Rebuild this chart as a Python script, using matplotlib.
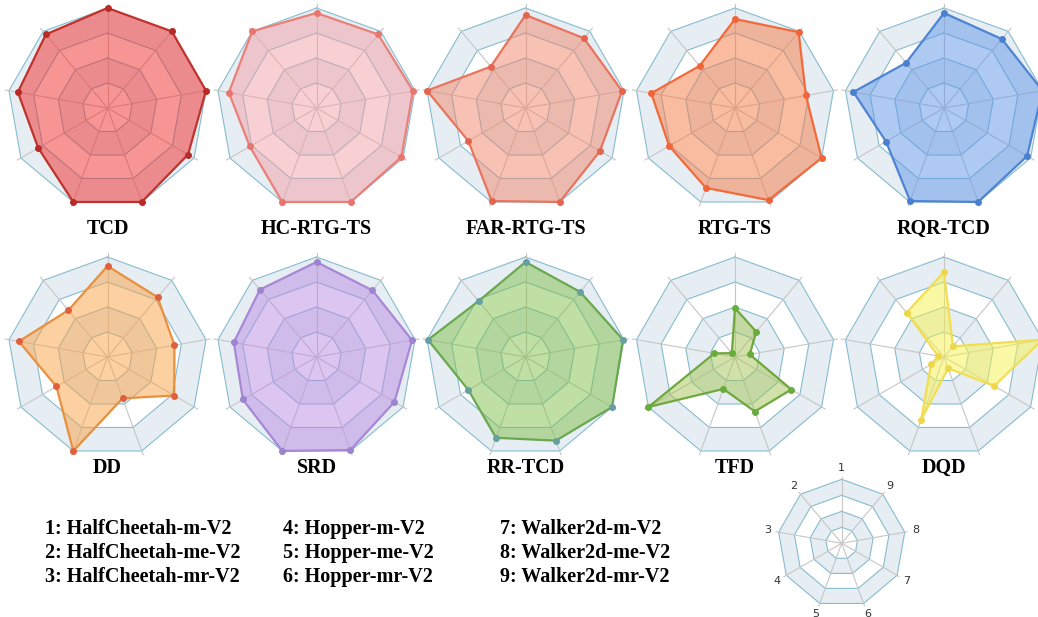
import numpy as np
import matplotlib
matplotlib.use('Agg')
import matplotlib.pyplot as plt

W, H = 1038, 617

# dataset order on the spokes (1 at the top, counter-clockwise)
dataset_names = ['HalfCheetah-m-V2', 'HalfCheetah-me-V2', 'HalfCheetah-mr-V2',
                 'Hopper-m-V2', 'Hopper-me-V2', 'Hopper-mr-V2',
                 'Walker2d-m-V2', 'Walker2d-me-V2', 'Walker2d-mr-V2']

# normalised scores per method, one value per dataset
tcd = [1.00, 0.96, 0.91, 0.80, 1.00, 1.00, 0.93, 1.00, 1.00]
hc_rtg_ts = [0.95, 1.00, 0.89, 0.77, 1.00, 1.00, 0.98, 0.98, 0.96]
far_rtg_ts = [0.93, 0.54, 1.00, 0.66, 0.99, 1.00, 0.86, 0.98, 0.91]
rtg_ts = [0.89, 0.55, 0.85, 0.76, 0.85, 0.98, 1.00, 0.72, 0.99]
rqr_tcd = [0.95, 0.59, 0.92, 0.67, 0.99, 1.00, 0.96, 1.00, 0.90]
dd = [0.91, 0.61, 0.90, 0.59, 1.00, 0.44, 0.77, 0.68, 0.78]
srd = [0.95, 0.88, 0.84, 0.85, 1.00, 0.99, 0.90, 0.97, 0.87]
rr_tcd = [0.95, 0.73, 0.99, 0.66, 0.86, 0.89, 1.00, 0.99, 0.85]
tfd = [0.49, 0.05, 0.21, 1.00, 0.34, 0.58, 0.65, 0.15, 0.33]
dqd = [0.85, 0.58, 0.06, 0.15, 0.67, 0.12, 0.58, 1.00, 0.14]

titles = ['TCD', 'HC-RTG-TS', 'FAR-RTG-TS', 'RTG-TS', 'RQR-TCD',
          'DD', 'SRD', 'RR-TCD', 'TFD', 'DQD']
series = [tcd, hc_rtg_ts, far_rtg_ts, rtg_ts, rqr_tcd,
          dd, srd, rr_tcd, tfd, dqd]
# (line, fill, marker) colours per method
styles = [
    ('#c0322b', '#f02a2a', '#b82a25'),
    ('#ea8078', '#f2a0a6', '#e8756e'),
    ('#e8745e', '#f0866a', '#e2664f'),
    ('#f26a3a', '#f47a45', '#f0643a'),
    ('#4f84d2', '#5f96e8', '#4a80d0'),
    ('#e8903e', '#fba244', '#e0603e'),
    ('#a888d6', '#bb8ce2', '#9c84d0'),
    ('#6aa850', '#80c04a', '#66a0a0'),
    ('#6fa83e', '#a4c454', '#68ac3c'),
    ('#f2de52', '#f6f24c', '#eed84a'),
]

levels = [0.25, 0.5, 0.75, 1.0]
shade = '#e6eef3'
split_col = '#86bccf'
spoke_col = '#c6c6c6'

n = len(dataset_names)
theta = np.pi / 2 + np.arange(n) * 2 * np.pi / n
theta_c = np.append(theta, theta[0])


def radar_axes(fig, cx, cy, R):
    ax = fig.add_axes([(cx - R) / W, 1 - (cy + R) / H, 2 * R / W, 2 * R / H],
                      projection='polar')
    ax.set_theta_offset(0)
    ax.set_ylim(0, 1)
    ax.set_xticks([])
    ax.set_yticks([])
    ax.grid(False)
    ax.spines['polar'].set_visible(False)
    ax.patch.set_visible(False)
    # alternating bands between the nonagon rings
    for lev in levels[::-1]:
        col = shade if levels.index(lev) % 2 == 1 else 'white'
        ax.fill(theta_c, [lev] * (n + 1), color=col, lw=0, zorder=1, clip_on=False)
    for lev in levels:
        ax.plot(theta_c, [lev] * (n + 1), color=split_col, lw=0.8, zorder=2,
                clip_on=False)
    for t in theta:
        ax.plot([t, t], [0, 1.04], color=spoke_col, lw=0.8, zorder=2, clip_on=False)
    return ax


fig = plt.figure(figsize=(W / 100, H / 100), dpi=100)

col_x = [107.5, 316.5, 525.5, 735, 944]
row_y = [108, 357]
title_y = [229, 468]
R = 100

for i, (title, vals, (lc, fc, mc)) in enumerate(zip(titles, series, styles)):
    r, c = divmod(i, 5)
    ax = radar_axes(fig, col_x[c], row_y[r], R)
    v = np.append(vals, vals[0])
    ax.fill(theta_c, v, color=fc, alpha=0.5, lw=0, zorder=3, clip_on=False)
    ax.plot(theta_c, v, color=lc, lw=1.6, zorder=4, clip_on=False)
    ax.plot(theta, vals, 'o', color=mc, ms=4, zorder=5, clip_on=False)
    fig.text(col_x[c] / W, 1 - title_y[r] / H, title, ha='center', va='center',
             family='Liberation Serif', weight='bold', fontsize=14.5)

# key for spoke numbers
key = radar_axes(fig, 841.7, 543.3, 64)
for k, t in enumerate(theta):
    key.text(t, 1.17, str(k + 1), ha='center', va='center', fontsize=8,
             color='#333333')

leg_x = [45, 283, 500]
leg_y = [529, 553, 577]
for k, name in enumerate(dataset_names):
    c, r = divmod(k, 3)
    fig.text(leg_x[c] / W, 1 - leg_y[r] / H, f'{k + 1}: {name}', ha='left',
             va='center', family='Liberation Serif', weight='bold', fontsize=14.5)

fig.savefig('out.png', dpi=100)
